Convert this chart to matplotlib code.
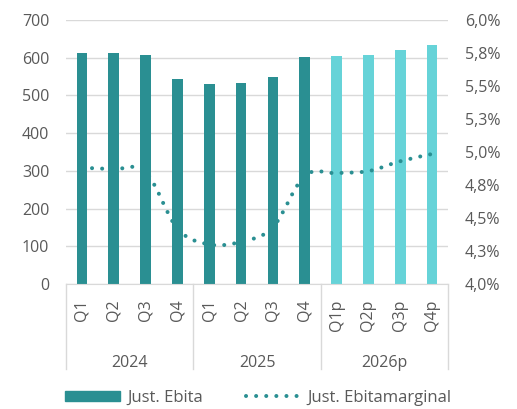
import matplotlib.pyplot as plt
from matplotlib.path import Path
from matplotlib.patches import PathPatch, Patch
from matplotlib.lines import Line2D

plt.rcParams['font.family'] = ['Open Sans', 'DejaVu Sans']

# data
quarters = ['Q1', 'Q2', 'Q3', 'Q4', 'Q1', 'Q2', 'Q3', 'Q4', 'Q1p', 'Q2p', 'Q3p', 'Q4p']
years = ['2024', '2025', '2026p']
ebita = [613, 613, 607, 544, 530, 533, 549, 602, 605, 607, 620, 634]
margin = [4.88, 4.87, 4.85, 4.42, 4.30, 4.32, 4.43, 4.82, 4.84, 4.855, 4.93, 4.985]
forecast = [False] * 8 + [True] * 4
left_ticks = [0, 100, 200, 300, 400, 500, 600, 700]
right_ticks = [4.0, 4.25, 4.5, 4.75, 5.0, 5.25, 5.5, 5.75, 6.0]
right_labels = ['4,0%', '4,3%', '4,5%', '4,8%', '5,0%', '5,3%', '5,5%', '5,8%', '6,0%']

dark = '#2A8F92'
light = '#66D3D8'
grey_txt = '#595959'
grid_col = '#D9D9D9'
dots = (0, (0.01, 2.5))

fig = plt.figure(figsize=(5.17, 4.09), dpi=100)
ax = fig.add_axes([66 / 517, 1 - 284 / 409, 382 / 517, 264 / 409])
x = list(range(len(ebita)))
colors = [light if f else dark for f in forecast]
ax.bar(x, ebita, width=0.33, color=colors, zorder=2)
ax.set_xlim(-0.5, len(ebita) - 0.5)
ax.set_ylim(0, 700)
ax.set_yticks(left_ticks)
ax.grid(axis='y', color=grid_col, linewidth=1, zorder=0)
for s in ['top', 'left', 'right']:
    ax.spines[s].set_visible(False)
ax.spines['bottom'].set_color(grid_col)
ax.tick_params(axis='y', length=0, pad=12, labelsize=11.5, labelcolor=grey_txt)
ax.set_xticks(x)
ax.set_xticklabels(quarters, rotation=90, va='top')
ax.tick_params(axis='x', length=0, pad=11, labelsize=11.5, labelcolor=grey_txt)

# group axis below quarters
trans = ax.get_xaxis_transform()
for b in [-0.5, 3.5, 7.5, 11.5]:
    ax.plot([b, b], [0, -0.322], transform=trans, color=grid_col, lw=1, clip_on=False)
for i, y in enumerate(years):
    ax.text(i * 4 + 1.5, -0.3, y, transform=trans, ha='center', va='center',
            fontsize=11.5, color=grey_txt)

# margin line on secondary axis, smoothed like the original
ax2 = ax.twinx()
ax2.set_ylim(4.0, 6.0)
ax2.set_yticks(right_ticks)
ax2.set_yticklabels(right_labels)
for s in ['top', 'left', 'right', 'bottom']:
    ax2.spines[s].set_visible(False)
ax2.tick_params(axis='y', length=0, pad=12, labelsize=11.5, labelcolor=grey_txt)

pts = list(zip(x, margin))
verts = [pts[0]]
codes = [Path.MOVETO]
for i in range(len(pts) - 1):
    p0 = pts[max(i - 1, 0)]
    p1 = pts[i]
    p2 = pts[i + 1]
    p3 = pts[min(i + 2, len(pts) - 1)]
    c1 = (p1[0] + (p2[0] - p0[0]) / 6, p1[1] + (p2[1] - p0[1]) / 6)
    c2 = (p2[0] - (p3[0] - p1[0]) / 6, p2[1] - (p3[1] - p1[1]) / 6)
    verts += [c1, c2, p2]
    codes += [Path.CURVE4] * 3
ax2.add_patch(PathPatch(Path(verts, codes), fill=False, edgecolor=dark, lw=2.9,
                        linestyle=dots, capstyle='round', zorder=3))

handles = [Patch(color=dark),
           Line2D([], [], color=dark, lw=2.9, linestyle=dots, dash_capstyle='round')]
fig.legend(handles, ['Just. Ebita', 'Just. Ebitamarginal'], loc='center',
           bbox_to_anchor=(0.5, 0.027), ncol=2, frameon=False, fontsize=12,
           labelcolor=grey_txt, handlelength=3.3, handleheight=0.6,
           handletextpad=0.4, columnspacing=2.6)

fig.savefig('out.png', dpi=100)
